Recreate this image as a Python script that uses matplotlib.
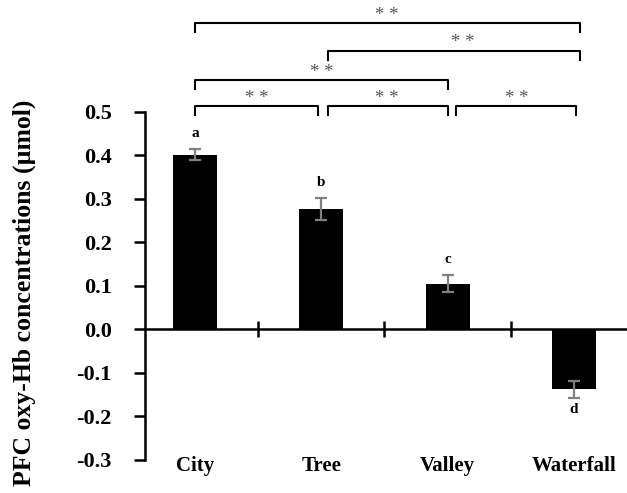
import matplotlib
matplotlib.use("Agg")
import matplotlib.pyplot as plt

plt.rcParams["font.family"] = ["Liberation Serif", "DejaVu Serif"]

# data
categories = ["City", "Tree", "Valley", "Waterfall"]
means = [0.402, 0.277, 0.105, -0.138]
errors = [0.013, 0.025, 0.02, 0.02]
letters = ["a", "b", "c", "d"]
yticks = [-0.3, -0.2, -0.1, 0.0, 0.1, 0.2, 0.3, 0.4, 0.5]
ytick_labels = ["-0.3", "-0.2", "-0.1", "0.0", "0.1", "0.2", "0.3", "0.4", "0.5"]

# significance brackets: left x, right x, height (data units), star position
bracket_x1 = [0.0, 1.05, 2.07, 0.0, 1.05, 0.0]
bracket_x2 = [0.97, 2.0, 3.02, 2.0, 3.05, 3.05]
bracket_y = [0.513, 0.513, 0.513, 0.573, 0.641, 0.704]
star_x = [0.49, 1.52, 2.55, 1.0, 2.12, 1.52]
bracket_text = ["* *", "* *", "* *", "* *", "* *", "* *"]

fig = plt.figure(figsize=(6.27, 4.93), dpi=100)
ax = fig.add_axes([0.2313, 0.067, 0.7687, 0.706])

x = list(range(len(categories)))
ax.bar(x, means, width=0.35, color="black", zorder=2)
ax.errorbar(x, means, yerr=errors, fmt="none", ecolor="#808080",
            elinewidth=1.6, capsize=4.5, capthick=1.6, zorder=3)

for xi, m, e, lab in zip(x, means, errors, letters):
    if m >= 0:
        ax.text(xi, m + e + 0.02, lab, ha="center", va="bottom",
                fontsize=11, fontweight="bold")
    else:
        ax.text(xi, m - e - 0.012, lab, ha="center", va="top",
                fontsize=11, fontweight="bold")

ax.set_xlim(-0.396, 3.42)
ax.set_ylim(-0.3, 0.5)

ax.spines["top"].set_visible(False)
ax.spines["right"].set_visible(False)
ax.spines["bottom"].set_position(("data", 0))
ax.spines["left"].set_linewidth(1.8)
ax.spines["bottom"].set_linewidth(1.8)

ax.set_yticks(yticks)
ax.set_yticklabels(ytick_labels, fontsize=16, fontweight="bold")
ax.tick_params(axis="y", direction="out", length=8, width=1.8, pad=16)

ax.set_xticks([0.5, 1.5, 2.5])
ax.set_xticklabels([])
ax.tick_params(axis="x", direction="inout", length=12, width=1.8)

for xi, name in zip(x, categories):
    ax.text(xi, -0.315, name, ha="center", va="center",
            fontsize=15, fontweight="bold")

ax.set_ylabel("PFC oxy-Hb concentrations (\u00b5mol)", fontsize=18.5,
              fontweight="bold")
ax.yaxis.set_label_coords(-0.226, 0.48)

drop = 0.021
for x1, x2, y, sx, t in zip(bracket_x1, bracket_x2, bracket_y, star_x, bracket_text):
    ax.plot([x1, x1, x2, x2], [y - drop, y, y, y - drop], color="black",
            lw=1.5, clip_on=False)
    ax.text(sx, y - 0.002, t, ha="center", va="bottom",
            fontsize=13.5, color="#555555", clip_on=False)

fig.savefig("out.png", dpi=100)
